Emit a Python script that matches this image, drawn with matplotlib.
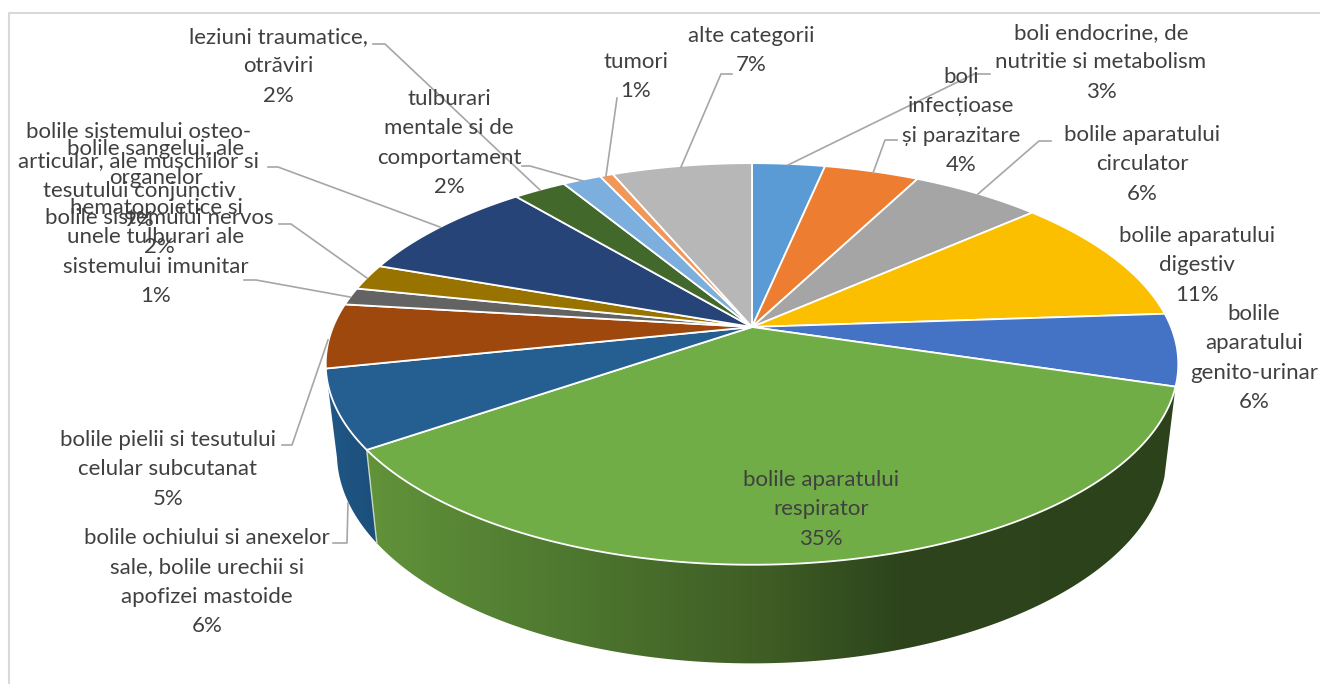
import numpy as np
import matplotlib
matplotlib.use("Agg")
import matplotlib.pyplot as plt
from matplotlib.patches import Polygon

plt.rcParams['font.family'] = ['Lato', 'DejaVu Sans']

# ==== data, clockwise from 12 o'clock ====
categories = [
    "boli endocrine, de\nnutritie si metabolism",
    "boli\ninfecțioase\nși parazitare",
    "bolile aparatului\ncirculator",
    "bolile aparatului\ndigestiv",
    "bolile\naparatului\ngenito-urinar",
    "bolile aparatului\nrespirator",
    "bolile ochiului si anexelor\nsale, bolile urechii si\napofizei mastoide",
    "bolile pielii si tesutului\ncelular subcutanat",
    "bolile sangelui, ale\norganelor\nhematopoietice si\nunele tulburari ale\nsistemului imunitar",
    "bolile sistemului nervos",
    "bolile sistemului osteo-\narticular, ale muschilor si\ntesutului conjunctiv",
    "leziuni traumatice,\notrăviri",
    "tulburari\nmentale si de\ncomportament",
    "tumori",
    "alte categorii",
]
values = [3.3, 4.3, 5.9, 10.4, 5.8, 35.7, 6.3, 5.2, 1.4, 2.1, 8.5, 2.4, 1.75, 0.6, 6.35]
percents = ["3%", "4%", "6%", "11%", "6%", "35%", "6%", "5%", "1%", "2%", "9%", "2%", "2%", "1%", "7%"]
colors = ["#5b9bd5", "#ed7d31", "#a5a5a5", "#fcbf00", "#4472c4", "#70ad47", "#255e91", "#9e480e",
          "#636363", "#997300", "#264478", "#43682b", "#7cafdd", "#f1975a", "#b7b7b7"]

# ==== layout, in pixels of the 1320x684 picture ====
label_x = [1101, 961, 1142, 1197, 1254, 821, 207, 168, 156, 159, 139, 278, 449, 636, 751]
label_y = [32, 76, 134, 235, 313, 479, 537, 439, 148, 217, 131, 36, 98, 61, 35]
leaders = [
    [(990, 74), (974, 74), (788, 165)],
    [(897, 140), (885, 140), (873, 173)],
    [(1051, 141), (1039, 141), (978, 194)],
    None, None, None,
    [(333, 543), (347, 543), (348, 503)],
    [(282, 445), (292, 445), (328, 340)],
    [(244, 280), (256, 280), (350, 297)],
    [(279, 224), (291, 224), (367, 278)],
    [(268, 167), (278, 167), (440, 227)],
    [(373, 44), (385, 44), (540, 190)],
    [(522, 166), (530, 166), (583, 181)],
    [(617, 98), (606, 176)],
    [(732, 74), (721, 74), (681, 167)],
]
LINE_H = 29.4
TEXT_COLOR = "#404040"
LEADER_COLOR = "#a6a6a6"

# perspective of the top disc and of the bottom disc
CX, CY, A, B, K = 752, 327, 419, 194, 0.184
CY2, A2, B2 = 414.6, 408, 203


def disc(theta, a, b, cy):
    x, v = np.sin(theta), -np.cos(theta)
    w = 1 - K * v
    return CX + a * x / w, cy + b * v / w


def arc(t0, t1, a=A, b=B, cy=CY):
    t = np.linspace(t0, t1, max(int((t1 - t0) * 120), 2))
    return np.column_stack(disc(t, a, b, cy))


fig = plt.figure(figsize=(13.2, 6.84), dpi=100)
ax = fig.add_axes([0, 0, 1, 1])

edges = np.r_[0, np.cumsum(values)] / np.sum(values) * 2 * np.pi

# side walls, only the two slices that face the viewer
green_x = [360, 520, 770, 900, 1180]
green_r = [98, 82, 62, 45, 44]
green_g = [148, 126, 92, 68, 66]
green_b = [58, 50, 36, 28, 27]
blue_x = [320, 380]
blue_r = [32, 28]
blue_g = [88, 78]
blue_b = [135, 122]
xs = np.arange(1320)
for i, (sx, sr, sg, sb) in {5: (green_x, green_r, green_g, green_b),
                            6: (blue_x, blue_r, blue_g, blue_b)}.items():
    outline = np.vstack([arc(edges[i], edges[i + 1]), arc(edges[i], edges[i + 1], A2, B2, CY2)[::-1]])
    grad = np.dstack([np.interp(xs, sx, sr), np.interp(xs, sx, sg), np.interp(xs, sx, sb)]) / 255
    im = ax.imshow(grad, extent=(0, 1320, 684, 0), aspect='auto', zorder=1)
    clip = Polygon(outline, closed=True, fc='none', ec='none', transform=ax.transData)
    ax.add_patch(clip)
    im.set_clip_path(clip)
# seam between the two walls
seam = edges[6]
ax.plot(*zip(disc(seam, A, B, CY), disc(seam, A2, B2, CY2)), color="#c9d6c0", lw=1, zorder=2)

# top face
for i, col in enumerate(colors):
    pts = np.vstack([[CX, CY], arc(edges[i], edges[i + 1])])
    ax.fill(pts[:, 0], pts[:, 1], facecolor=col, edgecolor='white', lw=1.3, joinstyle='round', zorder=3)

# leader lines
for pts in leaders:
    if pts:
        ax.plot(*zip(*pts), color=LEADER_COLOR, lw=1.2, zorder=4)

# labels, line by line
for name, pct, x, y in zip(categories, percents, label_x, label_y):
    for j, line in enumerate(name.split("\n") + [pct]):
        ax.text(x, y + 7 + j * LINE_H, line, ha='center', va='baseline', fontsize=16, color=TEXT_COLOR, zorder=5)

# chart frame, it runs off the right and bottom of the picture
ax.plot([8.5, 8.5, 1330], [700, 12.5, 12.5], color="#d9d9d9", lw=1.5, zorder=0)

ax.set_xlim(0, 1320)
ax.set_ylim(684, 0)
ax.axis("off")
fig.savefig("out.png", dpi=100)
